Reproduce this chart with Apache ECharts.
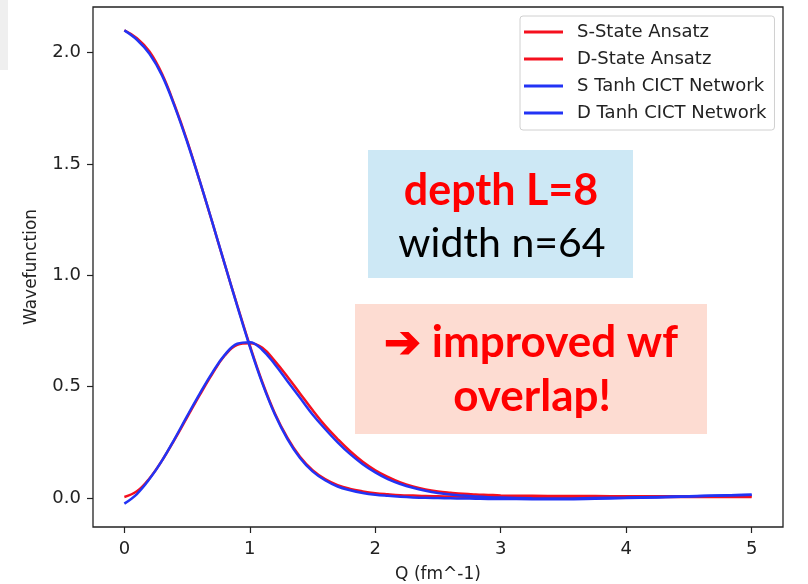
<!DOCTYPE html>
<html>
<head>
    <meta charset="utf-8"/>
    <title>Wavefunction</title>
    <script src="https://cdn.jsdelivr.net/npm/echarts@6/dist/echarts.min.js"></script>
    <style>
        html, body { margin: 0; padding: 0; background: #ffffff; }
        #chart { width: 808px; height: 584px; }
    </style>
</head>
<body>
<div id="chart"></div>
<script>
// Q grid (fm^-1)
var q = [0, 0.1, 0.2, 0.3, 0.4, 0.5, 0.6, 0.7, 0.8, 0.9, 1.0, 1.1, 1.2, 1.3, 1.4, 1.5, 1.6, 1.7, 1.8, 1.9,
         2.0, 2.1, 2.2, 2.3, 2.4, 2.5, 2.6, 2.7, 2.8, 2.9, 3.0, 3.25, 3.5, 3.75, 4.0, 4.25, 4.5, 4.75, 5.0];

var sAnsatz = [2.100, 2.065, 2.005, 1.905, 1.765, 1.605, 1.425, 1.240, 1.050, 0.865, 0.685, 0.520, 0.380, 0.270, 0.185, 0.125, 0.085, 0.058, 0.041, 0.030,
               0.022, 0.017, 0.013, 0.011, 0.009, 0.008, 0.007, 0.006, 0.006, 0.005, 0.005, 0.005, 0.005, 0.005, 0.005, 0.005, 0.005, 0.005, 0.005];

var dAnsatz = [0.005, 0.030, 0.088, 0.168, 0.262, 0.362, 0.462, 0.557, 0.640, 0.688, 0.695, 0.675, 0.615, 0.545, 0.470, 0.395, 0.325, 0.265, 0.210, 0.163,
               0.125, 0.095, 0.070, 0.052, 0.039, 0.030, 0.024, 0.019, 0.016, 0.014, 0.012, 0.010, 0.009, 0.009, 0.008, 0.008, 0.008, 0.008, 0.008];

var sNet = [2.100, 2.058, 1.995, 1.898, 1.760, 1.600, 1.425, 1.240, 1.050, 0.862, 0.680, 0.515, 0.375, 0.265, 0.180, 0.120, 0.080, 0.052, 0.035, 0.023,
            0.015, 0.010, 0.006, 0.003, 0.001, 0.000, -0.001, -0.002, -0.003, -0.004, -0.004, -0.005, -0.005, -0.003, 0.000, 0.003, 0.007, 0.011, 0.015];

var dNet = [-0.025, 0.018, 0.085, 0.168, 0.265, 0.368, 0.468, 0.562, 0.643, 0.693, 0.700, 0.665, 0.600, 0.525, 0.450, 0.375, 0.310, 0.250, 0.197, 0.152,
            0.115, 0.085, 0.063, 0.046, 0.033, 0.023, 0.016, 0.011, 0.007, 0.004, 0.002, -0.001, -0.002, 0.000, 0.002, 0.005, 0.008, 0.012, 0.015];

var xTicks = [0, 1, 2, 3, 4, 5];
var yTicks = [0, 0.5, 1.0, 1.5, 2.0];

var RED = '#f5101e';
var BLUE = '#2233f5';

function pairs(vals) {
    return q.map(function (x, i) { return [x, vals[i]]; });
}

function lineSeries(name, vals, color) {
    return {
        name: name,
        type: 'line',
        data: pairs(vals),
        showSymbol: false,
        smooth: 0.4,
        lineStyle: { color: color, width: 2.5 },
        itemStyle: { color: color },
        emphasis: { disabled: true }
    };
}

var chart = echarts.init(document.getElementById('chart'));

var axisText = { color: '#222', fontSize: 18, fontFamily: 'DejaVu Sans' };

var option = {
    animation: false,
    backgroundColor: '#ffffff',
    grid: {
        left: 93, right: 25, top: 7, bottom: 57,
        outerBoundsMode: 'none',
        containLabel: false,
        show: true, borderColor: '#222', borderWidth: 1.3, backgroundColor: 'transparent'
    },
    legend: {
        orient: 'vertical',
        left: 520, top: 16,
        padding: [7, 8, 8, 4],
        itemGap: 9,
        itemWidth: 39, itemHeight: 3,
        icon: 'rect',
        borderColor: '#d0d0d0', borderWidth: 1, borderRadius: 3,
        textStyle: { color: '#222', fontSize: 18, fontFamily: 'DejaVu Sans', padding: [0, 0, 0, 9] },
        data: ['S-State Ansatz', 'D-State Ansatz', 'S Tanh CICT Network', 'D Tanh CICT Network']
    },
    xAxis: {
        type: 'value',
        min: -0.25, max: 5.25,
        name: 'Q (fm^-1)',
        nameLocation: 'middle',
        nameGap: 39,
        nameTextStyle: { color: '#222', fontSize: 17, fontFamily: 'DejaVu Sans' },
        axisLine: { show: false, onZero: false },
        axisTick: { show: true, inside: false, length: 6, customValues: xTicks, lineStyle: { color: '#222', width: 1.2 } },
        axisLabel: Object.assign({ margin: 13, customValues: xTicks }, axisText),
        splitLine: { show: false }
    },
    yAxis: {
        type: 'value',
        min: -0.13, max: 2.205,
        name: 'Wavefunction',
        nameLocation: 'middle',
        nameGap: 53,
        nameTextStyle: { color: '#222', fontSize: 17, fontFamily: 'DejaVu Sans' },
        axisLine: { show: false, onZero: false },
        axisTick: { show: true, inside: false, length: 6, customValues: yTicks, lineStyle: { color: '#222', width: 1.2 } },
        axisLabel: Object.assign({
            margin: 12,
            customValues: yTicks,
            formatter: function (v) { return v.toFixed(1); }
        }, axisText),
        splitLine: { show: false }
    },
    series: [
        lineSeries('S-State Ansatz', sAnsatz, RED),
        lineSeries('D-State Ansatz', dAnsatz, RED),
        lineSeries('S Tanh CICT Network', sNet, BLUE),
        lineSeries('D Tanh CICT Network', dNet, BLUE)
    ],
    graphic: [
        // grey patch at the top left corner
        { type: 'rect', left: 0, top: 0, shape: { width: 8, height: 70 }, style: { fill: '#efefef' }, silent: true },
        // blue note box
        { type: 'rect', left: 368, top: 150, shape: { width: 265, height: 128 }, style: { fill: '#cde8f5' }, z: 10 },
        { type: 'text', z: 11,
          style: { text: 'depth L=8', x: 501, y: 191, align: 'center', verticalAlign: 'middle',
                   fill: '#ff0000', font: 'bold 43px Lato' } },
        { type: 'text', z: 11,
          style: { text: 'width n=64', x: 502, y: 244, align: 'center', verticalAlign: 'middle',
                   fill: '#000000', font: '41px Lato' } },
        // pink note box
        { type: 'rect', left: 355, top: 304, shape: { width: 352, height: 130 }, style: { fill: '#fddcd2' }, z: 10 },
        { type: 'text', z: 11,
          style: { text: '\u2794 improved wf', x: 531, y: 343, align: 'center', verticalAlign: 'middle',
                   fill: '#ff0000', font: 'bold 44px Lato' } },
        { type: 'text', z: 11,
          style: { text: 'overlap!', x: 532, y: 397, align: 'center', verticalAlign: 'middle',
                   fill: '#ff0000', font: 'bold 44px Lato' } }
    ]
};

chart.setOption(option);
</script>
</body>
</html>
